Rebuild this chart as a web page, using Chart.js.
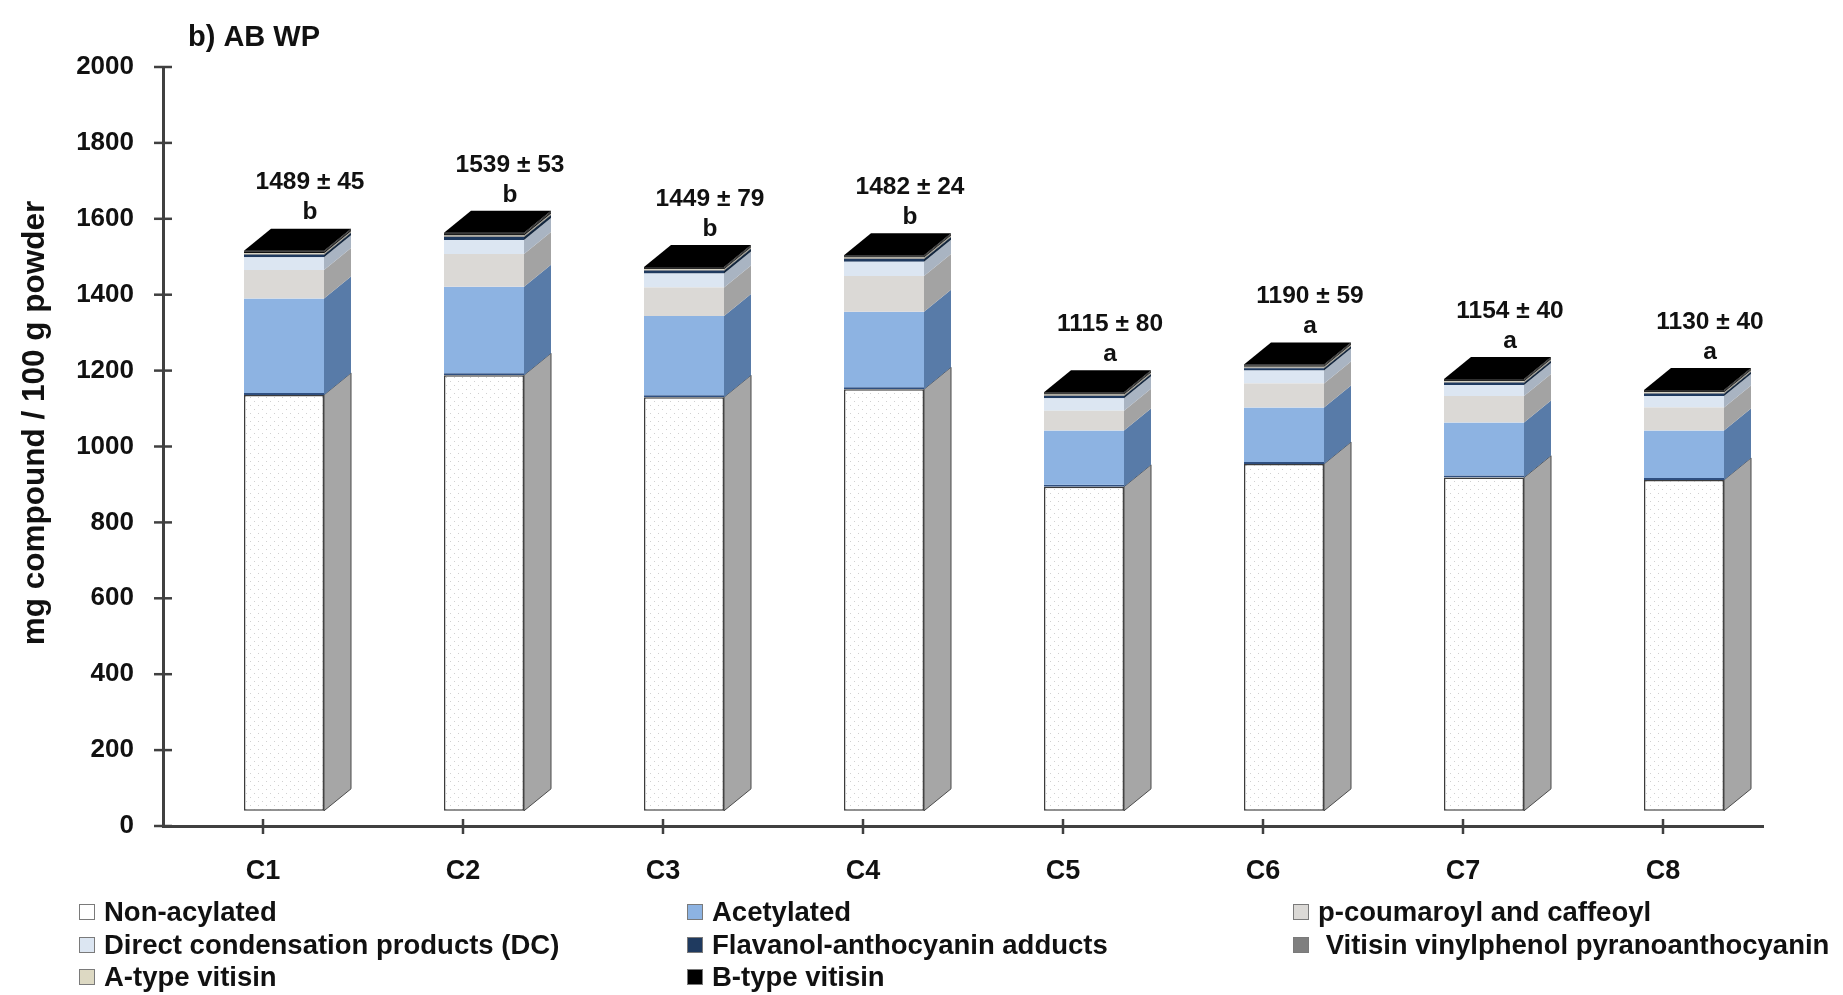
<!DOCTYPE html>
<html>
<head>
<meta charset="utf-8">
<script src="https://cdn.jsdelivr.net/npm/chart.js@4.4.1/dist/chart.umd.min.js"></script>
<style>
    body { margin: 0; background: #fff; }
    #wrap { position: relative; width: 1843px; height: 995px; }
    #legend .leg-item {
        position: absolute; display: flex; align-items: center;
        font: bold 27.5px 'Liberation Sans', Arial, sans-serif; color: #111; white-space: pre;
        transform: translateY(-50%);
    }
    #legend .leg-box { width: 16px; height: 16px; border: 1px solid #7a7a7a; margin-right: 9px; box-sizing: border-box; }
</style>
</head>
<body>
<div id="wrap">
    <canvas id="chart" width="1843" height="995"></canvas>
    <div id="legend"></div>
</div>
<script>
// --- DATA ---
const categories = ['C1', 'C2', 'C3', 'C4', 'C5', 'C6', 'C7', 'C8'];
const nonAcylated        = [1136, 1188, 1130, 1151, 894, 954, 918, 912];
const acetylated         = [254, 233, 214, 204, 148, 149, 145, 130];
const coumaroylCaffeoyl  = [75, 86, 75, 94, 52, 63, 70, 61];
const directCondensation = [34, 37, 37, 38, 33, 34, 29, 30];
const flavanolAdducts    = [6, 8, 7, 7, 6, 6, 6, 6];
const vitisinVinylphenol = [2, 2, 2, 2, 2, 2, 2, 2];
const aTypeVitisin       = [2, 2, 2, 2, 2, 2, 2, 2];
const bTypeVitisin       = [7, 7, 6, 6, 6, 6, 6, 6];
const totalLabels  = ['1489 ± 45', '1539 ± 53', '1449 ± 79', '1482 ± 24', '1115 ± 80', '1190 ± 59', '1154 ± 40', '1130 ± 40'];
const groupLetters = ['b', 'b', 'b', 'b', 'a', 'a', 'a', 'a'];
const yTicks = [0, 200, 400, 600, 800, 1000, 1200, 1400, 1600, 1800, 2000];

const seriesNames = ['Non-acylated', 'Acetylated', 'p-coumaroyl and caffeoyl',
    'Direct condensation products (DC)', 'Flavanol-anthocyanin adducts', ' Vitisin vinylphenol pyranoanthocyanin',
    'A-type vitisin', 'B-type vitisin'];
const seriesData = [nonAcylated, acetylated, coumaroylCaffeoyl, directCondensation,
    flavanolAdducts, vitisinVinylphenol, aTypeVitisin, bTypeVitisin];
const frontColors = ['#ffffff', '#8db3e2', '#dbd9d6', '#dce6f2', '#1f3a5f', '#7f7f7f', '#ddd9c3', '#000000'];
const sideColors  = ['#a6a6a6', '#587ba8', '#a3a3a3', '#a9b4c2', '#13263d', '#5a5a5a', '#a9a58f', '#111111'];

// 3D look
const DX = 27, DY = 22, SHIFT = 21;
const FONT = "'Liberation Sans', Arial, sans-serif";

function dotPattern() {
    const c = document.createElement('canvas');
    c.width = 8; c.height = 8;
    const g = c.getContext('2d');
    g.fillStyle = '#ffffff'; g.fillRect(0, 0, 8, 8);
    g.fillStyle = '#d0d0d0'; g.fillRect(1, 1, 1, 1); g.fillRect(5, 5, 1, 1);
    return g.createPattern(c, 'repeat');
}

const datasets = seriesData.map((arr, i) => {
    const ds = {
        label: seriesNames[i],
        data: arr,
        backgroundColor: frontColors[i],
        borderWidth: 0,
        barPercentage: 0.4,
        categoryPercentage: 1
    };
    if (i === 0) {
        ds.backgroundColor = dotPattern();
        ds.base = 40;
        ds.borderColor = '#3c3c3c';
        ds.borderWidth = 1.5;
        ds.borderSkipped = false;
    }
    if (i === 1) {
        ds.borderColor = '#2f4f80';
        ds.borderWidth = { top: 0, left: 0, right: 0, bottom: 2 };
        ds.borderSkipped = false;
    }
    return ds;
});

// --- 3D FACES + LABELS ---
const bar3d = {
    id: 'bar3d',
    beforeDatasetsDraw(chart) {
        chart.ctx.save();
        chart.ctx.translate(SHIFT, 0);
    },
    afterDatasetsDraw(chart) {
        const ctx = chart.ctx;
        const n = chart.data.datasets.length;
        for (let d = 0; d < n; d++) {
            chart.getDatasetMeta(d).data.forEach(bar => {
                const { x, y, base, width } = bar.getProps(['x', 'y', 'base', 'width'], true);
                const r = x + width / 2;
                ctx.beginPath();
                ctx.moveTo(r, y); ctx.lineTo(r + DX, y - DY);
                ctx.lineTo(r + DX, base - DY); ctx.lineTo(r, base);
                ctx.closePath();
                ctx.fillStyle = sideColors[d];
                ctx.fill();
                if (d === 0) { ctx.strokeStyle = '#4a4a4a'; ctx.lineWidth = 1; ctx.stroke(); }
            });
        }
        // top face
        chart.getDatasetMeta(n - 1).data.forEach(bar => {
            const { x, y, width } = bar.getProps(['x', 'y', 'width'], true);
            const l = x - width / 2, r = x + width / 2;
            ctx.beginPath();
            ctx.moveTo(l, y); ctx.lineTo(l + DX, y - DY);
            ctx.lineTo(r + DX, y - DY); ctx.lineTo(r, y);
            ctx.closePath();
            ctx.fillStyle = '#000'; ctx.fill();
            ctx.strokeStyle = '#555'; ctx.lineWidth = 1;
            ctx.beginPath(); ctx.moveTo(l, y + 1); ctx.lineTo(r, y + 1); ctx.lineTo(r + DX, y - DY + 1); ctx.stroke();
        });
        ctx.restore();

        // totals and letters
        ctx.save();
        ctx.fillStyle = '#111';
        ctx.textAlign = 'center';
        ctx.textBaseline = 'middle';
        chart.getDatasetMeta(n - 1).data.forEach((bar, i) => {
            const cx = bar.x + SHIFT + 26;
            ctx.font = 'bold 24.5px ' + FONT;
            ctx.fillText(totalLabels[i], cx, bar.y - 68);
            ctx.fillText(groupLetters[i], cx, bar.y - 38);
        });
        ctx.restore();
    },
    afterDraw(chart) {
        const ctx = chart.ctx;
        const { x: xs, y: ys } = chart.scales;
        const area = chart.chartArea;
        ctx.save();
        ctx.strokeStyle = '#404040';
        ctx.lineWidth = 2.5;
        yTicks.forEach(v => {
            const py = ys.getPixelForValue(v);
            ctx.beginPath(); ctx.moveTo(area.left - 9, py); ctx.lineTo(area.left + 9, py); ctx.stroke();
        });
        categories.forEach((c, i) => {
            const px = xs.getPixelForValue(i);
            ctx.beginPath(); ctx.moveTo(px, area.bottom - 7); ctx.lineTo(px, area.bottom + 8); ctx.stroke();
        });
        // titles
        ctx.fillStyle = '#111';
        ctx.font = 'bold 29px ' + FONT;
        ctx.textAlign = 'left';
        ctx.textBaseline = 'alphabetic';
        ctx.fillText('b) AB WP', 188, 46);
        ctx.translate(35, 423);
        ctx.rotate(-Math.PI / 2);
        ctx.font = 'bold 31.5px ' + FONT;
        ctx.textAlign = 'center';
        ctx.textBaseline = 'middle';
        ctx.fillText('mg compound / 100 g powder', 0, 0);
        ctx.restore();
    }
};

new Chart(document.getElementById('chart'), {
    type: 'bar',
    data: { labels: categories, datasets: datasets },
    options: {
        responsive: false,
        animation: false,
        layout: { padding: { top: 67, right: 80, left: 0, bottom: 0 } },
        plugins: { legend: { display: false }, tooltip: { enabled: false } },
        scales: {
            x: {
                stacked: true,
                grid: { display: true, drawOnChartArea: false, drawTicks: false },
                border: { display: true, color: '#404040', width: 3 },
                ticks: { color: '#111', font: { family: FONT, size: 27, weight: 'bold' }, padding: 29 },
                afterFit: s => { s.height = 169; }
            },
            y: {
                stacked: true,
                min: 0, max: 2000,
                afterBuildTicks: s => { s.ticks = yTicks.map(v => ({ value: v })); },
                grid: { display: true, drawOnChartArea: false, drawTicks: false },
                border: { display: true, color: '#404040', width: 3 },
                ticks: {
                    color: '#111', font: { family: FONT, size: 26, weight: 'bold' }, padding: 29,
                    callback: v => String(v)
                },
                afterFit: s => { s.width = 163; }
            }
        }
    },
    plugins: [bar3d]
});

// --- LEGEND ---
const legendCols = [79, 687, 1293];
const legendRows = [912, 945, 977];
const legendEl = document.getElementById('legend');
seriesNames.forEach((name, i) => {
    const item = document.createElement('div');
    item.className = 'leg-item';
    item.style.left = legendCols[i % 3] + 'px';
    item.style.top = legendRows[Math.floor(i / 3)] + 'px';
    const box = document.createElement('span');
    box.className = 'leg-box';
    box.style.background = frontColors[i];
    const txt = document.createElement('span');
    txt.textContent = name;
    item.appendChild(box);
    item.appendChild(txt);
    legendEl.appendChild(item);
});
</script>
</body>
</html>
